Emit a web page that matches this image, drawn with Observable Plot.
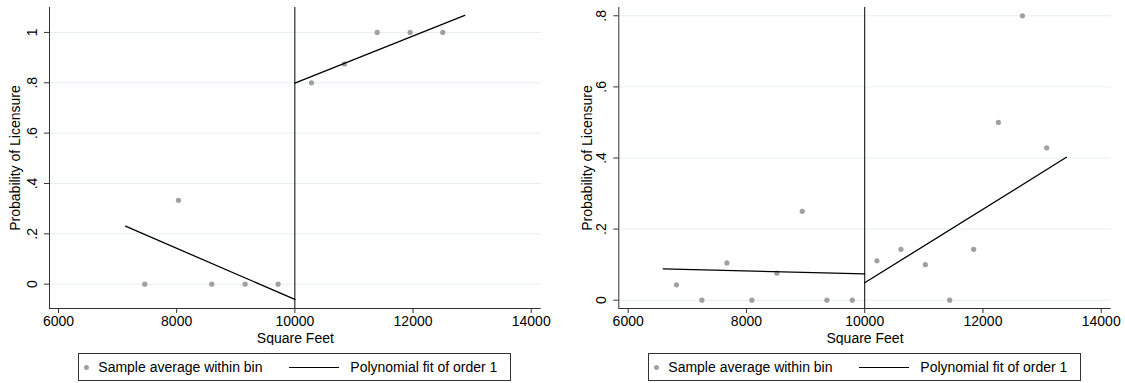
<!DOCTYPE html>
<html><head><meta charset="utf-8">
<script src="https://cdn.jsdelivr.net/npm/d3@7"></script>
<script src="https://cdn.jsdelivr.net/npm/@observablehq/plot@0.6"></script>
<style>
body{margin:0;background:#fff;font-family:"Liberation Sans",Arial,Helvetica,sans-serif;}
#wrap{position:relative;width:1125px;height:383px;overflow:hidden;background:#fff;}
.panel{position:absolute;top:0;}
.legend{position:absolute;top:353px;height:28px;width:433px;border:1px solid #333;box-sizing:border-box;background:#fff;font-size:14px;color:#000;}
.legend .dot{position:absolute;top:11px;width:5px;height:5px;border-radius:50%;background:#a0a0a0;}
.legend .ln{position:absolute;top:13px;height:1px;width:50px;background:#000;}
.legend .tx{position:absolute;top:5px;line-height:16px;white-space:nowrap;}
</style></head>
<body><div id="wrap"></div>
<script>
// ---- data ----
const xTicks = [6000, 8000, 10000, 12000, 14000];
const cutoff = 10000;
const xTitle = "Square Feet";
const yTitle = "Probability of Licensure";
const legendLabels = ["Sample average within bin", "Polynomial fit of order 1"];

// left panel
const leftBinX = [7460, 8030, 8594, 9159, 9717, 10281, 10839, 11393, 11951, 12503];
const leftBinY = [0, 0.333, 0, 0, 0, 0.8, 0.875, 1, 1, 1];
const leftFitBelowX = [7134, 10000];
const leftFitBelowY = [0.2305, -0.0607];
const leftFitAboveX = [10000, 12875];
const leftFitAboveY = [0.7987, 1.0676];
const leftYTicks = [0, 0.2, 0.4, 0.6, 0.8, 1];
const leftYLabels = ["0", ".2", ".4", ".6", ".8", "1"];

// right panel
const rightBinX = [6817, 7246, 7669, 8092, 8515, 8944, 9360, 9790, 10207, 10613, 11025, 11437, 11843, 12261, 12667, 13078];
const rightBinY = [0.0433, 0, 0.105, 0, 0.076, 0.25, 0, 0, 0.111, 0.143, 0.1, 0, 0.143, 0.5, 0.8, 0.4286];
const rightFitBelowX = [6592, 10000];
const rightFitBelowY = [0.0883, 0.0742];
const rightFitAboveX = [10000, 13411];
const rightFitAboveY = [0.049, 0.402];
const rightYTicks = [0, 0.2, 0.4, 0.6, 0.8];
const rightYLabels = ["0", ".2", ".4", ".6", ".8"];

function panel(cfg) {
  const bins = cfg.binX.map((x, i) => ({x, y: cfg.binY[i]}));
  const fit = [
    ...cfg.belowX.map((x, i) => ({x, y: cfg.belowY[i], seg: "below"})),
    ...cfg.aboveX.map((x, i) => ({x, y: cfg.aboveY[i], seg: "above"}))
  ];
  return Plot.plot({
    width: cfg.width, height: 345,
    marginLeft: cfg.ml, marginRight: cfg.mr, marginTop: 7, marginBottom: 37,
    x: {domain: cfg.xDomain},
    y: {domain: cfg.yDomain},
    style: {fontFamily: '"Liberation Sans", Arial, Helvetica, sans-serif', fontSize: "14px", color: "#000", background: "#fff"},
    marks: [
      Plot.gridY(cfg.yTicks, {stroke: "#e6eef0", strokeOpacity: 1, strokeWidth: 1}),
      Plot.axisX(xTicks, {tickSize: 5, tickPadding: 3, tickFormat: d => String(d), label: null, fontSize: 14, stroke: "#333"}),
      Plot.axisY(cfg.yTicks, {tickSize: 5, tickFormat: () => "", label: null, stroke: "#333"}),
      Plot.text(cfg.yTicks, {y: d => d, text: (d, i) => cfg.yLabels[i], frameAnchor: "left", dx: cfg.tickDx, rotate: -90, textAnchor: "middle", lineAnchor: "middle", fontSize: 14}),
      Plot.text([yTitle], {frameAnchor: "left", dx: cfg.titleDx, rotate: -90, textAnchor: "middle", lineAnchor: "middle", fontSize: 14}),
      Plot.text([xTitle], {frameAnchor: "bottom", dy: 30, textAnchor: "middle", lineAnchor: "middle", fontSize: 14}),
      Plot.ruleX([cfg.xDomain[0]], {stroke: "#333", strokeWidth: 1}),
      Plot.ruleY([cfg.yDomain[0]], {stroke: "#333", strokeWidth: 1}),
      Plot.ruleX([cutoff], {stroke: "#000", strokeWidth: 1}),
      Plot.dot(bins, {x: "x", y: "y", r: 2.6, fill: "#a0a0a0", stroke: null}),
      Plot.line(fit, {x: "x", y: "y", z: "seg", stroke: "#000", strokeWidth: 1.3})
    ]
  });
}

function legend(left) {
  const d = document.createElement("div");
  d.className = "legend";
  d.style.left = left + "px";
  d.innerHTML =
    `<span class="dot" style="left:5px"></span>` +
    `<span class="tx" style="left:19px">${legendLabels[0]}</span>` +
    `<span class="ln" style="left:210px"></span>` +
    `<span class="tx" style="left:271px">${legendLabels[1]}</span>`;
  return d;
}

const wrap = document.getElementById("wrap");

const p1 = panel({
  width: 560, ml: 49, mr: 19.3,
  xDomain: [5848, 14169], yDomain: [-0.0966, 1.099],
  binX: leftBinX, binY: leftBinY,
  belowX: leftFitBelowX, belowY: leftFitBelowY,
  aboveX: leftFitAboveX, aboveY: leftFitAboveY,
  yTicks: leftYTicks, yLabels: leftYLabels,
  tickDx: -16.5, titleDx: -34
});
const d1 = document.createElement("div"); d1.className = "panel"; d1.style.left = "0px"; d1.appendChild(p1);
wrap.appendChild(d1);

const p2 = panel({
  width: 565, ml: 58.3, mr: 14.3,
  xDomain: [5841, 14169], yDomain: [-0.0233, 0.8233],
  binX: rightBinX, binY: rightBinY,
  belowX: rightFitBelowX, belowY: rightFitBelowY,
  aboveX: rightFitAboveX, aboveY: rightFitAboveY,
  yTicks: rightYTicks, yLabels: rightYLabels,
  tickDx: -17.5, titleDx: -31.6
});
const d2 = document.createElement("div"); d2.className = "panel"; d2.style.left = "560px"; d2.appendChild(p2);
wrap.appendChild(d2);

wrap.appendChild(legend(78.3));
wrap.appendChild(legend(648.3));
</script>
</body></html>
